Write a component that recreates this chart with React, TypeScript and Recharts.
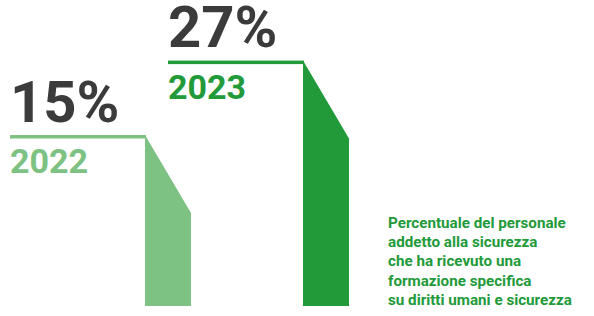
import React from "react";
import { BarChart, Bar, XAxis, YAxis } from "recharts";

const years = ["2022", "2023"];
const shares = [15, 27];
const barColors = ["#7dc283", "#229a3a"];
const captionLines = [
  "Percentuale del personale",
  "addetto alla sicurezza",
  "che ha ricevuto una",
  "formazione specifica",
  "su diritti umani e sicurezza",
];

const data = years.map((year, i) => ({ year, value: shares[i], color: barColors[i] }));

const SLANT = 78;
const RULE = 135;
const FONT = "Roboto, 'Noto Sans', sans-serif";

const StepBar = (props: any) => {
  const { x, y, width, height, payload } = props;
  const top = y - SLANT;
  const bottom = y + height;
  const color = payload.color;
  const points = `${x},${top} ${x + width},${y} ${x + width},${bottom} ${x},${bottom}`;
  return (
    <g>
      <rect x={x - RULE} y={top} width={RULE + 1} height={3.5} fill={color} />
      <polygon points={points} fill={color} />
      <text
        x={x - RULE}
        y={top - 13.5}
        fontFamily={FONT}
        fontWeight={700}
        fontSize={58}
        fill="#3b3b3b"
      >
        {`${payload.value}%`}
      </text>
      <text
        x={x - RULE}
        y={top + 38}
        fontFamily={FONT}
        fontWeight={700}
        fontSize={34}
        fill={color}
      >
        {payload.year}
      </text>
    </g>
  );
};

export default function App() {
  return (
    <div style={{ position: "absolute", left: 0, top: 0, width: 594, height: 316, background: "#fff" }}>
      <BarChart
        width={594}
        height={316}
        data={data}
        margin={{ top: 58, right: 189, bottom: 10, left: 89 }}
        style={{ overflow: "visible" }}
      >
        <XAxis dataKey="year" hide />
        <YAxis domain={[0, 40]} hide />
        <Bar dataKey="value" barSize={46} shape={<StepBar />} isAnimationActive={false} />
      </BarChart>
      <div
        style={{
          position: "absolute",
          left: 388,
          top: 214,
          fontFamily: FONT,
          fontWeight: 700,
          fontSize: 15.2,
          lineHeight: "19.2px",
          color: "#229a3a",
          whiteSpace: "nowrap",
        }}
      >
        {captionLines.map((line) => (
          <div key={line}>{line}</div>
        ))}
      </div>
    </div>
  );
}
